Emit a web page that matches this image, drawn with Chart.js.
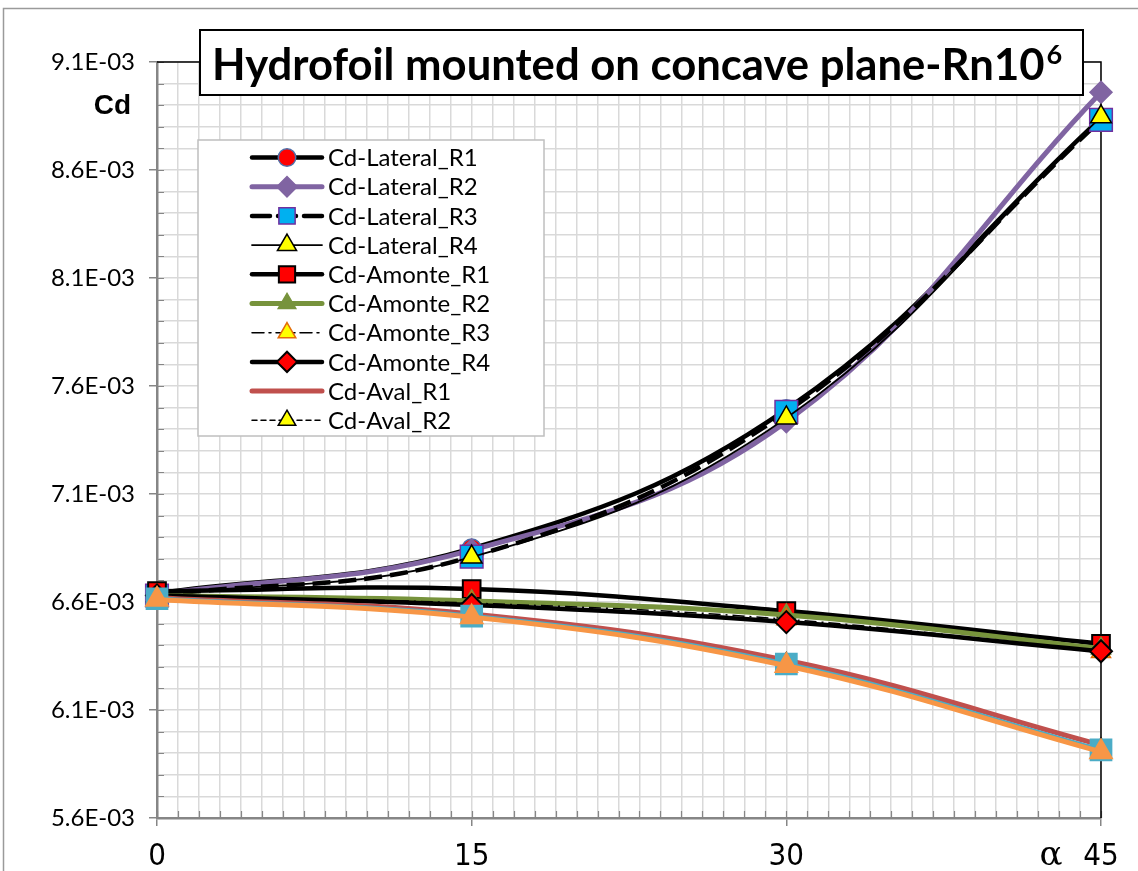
<!DOCTYPE html>
<html>
<head>
<meta charset="utf-8">
<title>Hydrofoil Cd</title>
<script src="https://cdn.jsdelivr.net/npm/chart.js@4.4.1/dist/chart.umd.min.js"></script>
<style>
  html, body { margin: 0; padding: 0; background: #fff; }
  #wrap { width: 1138px; height: 871px; }
</style>
</head>
<body>
<div id="wrap"><canvas id="cdChart" width="1138" height="871"></canvas></div>
<script>
// angle of attack (deg)
const alphaDeg = [0, 15, 30, 45];

// drag coefficient per configuration
const cdLateralR1 = [6.640e-3, 6.848e-3, 7.492e-3, 8.840e-3];
const cdLateralR2 = [6.635e-3, 6.840e-3, 7.435e-3, 8.960e-3];
const cdLateralR3 = [6.630e-3, 6.810e-3, 7.480e-3, 8.832e-3];
const cdLateralR4 = [6.630e-3, 6.808e-3, 7.452e-3, 8.846e-3];
const cdAmonteR1 = [6.650e-3, 6.660e-3, 6.558e-3, 6.406e-3];
const cdAmonteR2 = [6.630e-3, 6.605e-3, 6.540e-3, 6.385e-3];
const cdAmonteR3 = [6.625e-3, 6.595e-3, 6.520e-3, 6.368e-3];
const cdAmonteR4 = [6.630e-3, 6.586e-3, 6.507e-3, 6.372e-3];
const cdAvalR1 = [6.620e-3, 6.545e-3, 6.330e-3, 5.938e-3];
const cdAvalR2 = [6.615e-3, 6.538e-3, 6.315e-3, 5.920e-3];
const cdAvalR3 = [6.615e-3, 6.535e-3, 6.313e-3, 5.915e-3];
const cdAvalR4 = [6.612e-3, 6.530e-3, 6.305e-3, 5.906e-3];

const seriesNames = [
  "Cd-Lateral_R1", "Cd-Lateral_R2", "Cd-Lateral_R3", "Cd-Lateral_R4",
  "Cd-Amonte_R1", "Cd-Amonte_R2", "Cd-Amonte_R3", "Cd-Amonte_R4",
  "Cd-Aval_R1", "Cd-Aval_R2", "Cd-Aval_R3", "Cd-Aval_R4"
];
const legendCount = 10;

// y axis: 5.6E-03 .. 9.1E-03, labels every 0.5E-03
const cdMin = 5.6e-3;
const cdMax = 9.1e-3;

function pts(values) {
  return alphaDeg.map((a, i) => ({ x: a, y: values[i] }));
}

function series(idx, values, style) {
  return Object.assign({
    label: seriesNames[idx],
    data: pts(values),
    order: -idx,
    tension: 0.4,
    fill: false,
    clip: false,
    borderDash: [],
    pointBorderWidth: 1.5,
    pointHoverRadius: 0
  }, style);
}

const datasets = [
  series(0, cdLateralR1, { borderColor: "#000", borderWidth: 4.5, pointStyle: "circle", pointRadius: 9.5, pointBackgroundColor: "#ff0000", pointBorderColor: "#4f6fa8" }),
  series(1, cdLateralR2, { borderColor: "#8064a2", borderWidth: 5, pointStyle: "rectRot", pointRadius: 11, pointBackgroundColor: "#8064a2", pointBorderColor: "#8064a2" }),
  series(2, cdLateralR3, { borderColor: "#000", borderWidth: 4.5, borderDash: [18, 8], pointStyle: "rect", pointRadius: 16, pointBackgroundColor: "#00b0f0", pointBorderColor: "#7030a0" }),
  series(3, cdLateralR4, { borderColor: "#000", borderWidth: 1.8, pointStyle: "triangle", pointRadius: 12, pointBackgroundColor: "#ffff00", pointBorderColor: "#000" }),
  series(4, cdAmonteR1, { borderColor: "#000", borderWidth: 4.5, pointStyle: "rect", pointRadius: 12.5, pointBackgroundColor: "#ff0000", pointBorderColor: "#000", pointBorderWidth: 2 }),
  series(5, cdAmonteR2, { borderColor: "#77933c", borderWidth: 5, pointStyle: "triangle", pointRadius: 11, pointBackgroundColor: "#77933c", pointBorderColor: "#77933c" }),
  series(6, cdAmonteR3, { borderColor: "#000", borderWidth: 1.5, borderDash: [12, 5, 2, 5], pointStyle: "triangle", pointRadius: 11, pointBackgroundColor: "#ffff00", pointBorderColor: "#e46c0a" }),
  series(7, cdAmonteR4, { borderColor: "#000", borderWidth: 4.5, pointStyle: "rectRot", pointRadius: 11, pointBackgroundColor: "#ff0000", pointBorderColor: "#000", pointBorderWidth: 2 }),
  series(8, cdAvalR1, { borderColor: "#c0504d", borderWidth: 5, pointRadius: 0 }),
  series(9, cdAvalR2, { borderColor: "#000", borderWidth: 1.5, borderDash: [5, 4], pointStyle: "triangle", pointRadius: 11, pointBackgroundColor: "#ffff00", pointBorderColor: "#000" }),
  series(10, cdAvalR3, { borderColor: "#4bacc6", borderWidth: 4.5, pointStyle: "rect", pointRadius: 15, pointBackgroundColor: "#4bacc6", pointBorderColor: "#4bacc6" }),
  series(11, cdAvalR4, { borderColor: "#f79646", borderWidth: 5, pointStyle: "triangle", pointRadius: 13, pointBackgroundColor: "#f79646", pointBorderColor: "#f79646" })
];

const GRID = "#d9d9d9";
const AXIS = "#868686";
const tickFontY = { family: "Lato, 'Open Sans', sans-serif", size: 24 };
const tickFontX = { family: "'Liberation Sans Narrow', 'DejaVu Sans Condensed', 'Liberation Sans', sans-serif", size: 31 };

function isMajorY(v) {
  return Math.round((v - cdMin) * 1e4) % 5 === 0;
}

const decorPlugin = {
  id: "decor",
  beforeDraw(chart) {
    const ctx = chart.ctx;
    ctx.save();
    ctx.fillStyle = "#fff";
    ctx.fillRect(0, 0, chart.width, chart.height);
    ctx.strokeStyle = "#9a9a9a";
    ctx.lineWidth = 1.5;
    ctx.strokeRect(3.5, 8.5, chart.width + 20, chart.height + 20);
    ctx.restore();
  },
  beforeDatasetsDraw(chart) {
    const ctx = chart.ctx;
    const a = chart.chartArea;
    const xs = chart.scales.x, ys = chart.scales.y;
    ctx.save();
    // small inner ticks along both axes
    ctx.strokeStyle = AXIS;
    ctx.lineWidth = 1.2;
    ctx.beginPath();
    ys.ticks.forEach(t => {
      const y = Math.round(ys.getPixelForValue(t.value)) + 0.5;
      ctx.moveTo(a.left, y);
      ctx.lineTo(a.left + 7, y);
    });
    xs.ticks.forEach(t => {
      const x = Math.round(xs.getPixelForValue(t.value)) + 0.5;
      ctx.moveTo(x, a.bottom);
      ctx.lineTo(x, a.bottom - 7);
    });
    ctx.stroke();
    // black frame on top and right of the plot
    ctx.strokeStyle = "#000";
    ctx.lineWidth = 1.5;
    ctx.beginPath();
    ctx.moveTo(a.left, a.top);
    ctx.lineTo(a.right, a.top);
    ctx.lineTo(a.right, a.bottom);
    ctx.stroke();
    ctx.restore();
  },
  afterDraw(chart) {
    const ctx = chart.ctx;
    ctx.save();

    // title box
    const bx = 200, by = 30, bw = 883, bh = 65;
    ctx.fillStyle = "#fff";
    ctx.fillRect(bx, by, bw, bh);
    ctx.strokeStyle = "#000";
    ctx.lineWidth = 2;
    ctx.strokeRect(bx, by, bw, bh);
    const main = "Hydrofoil mounted on concave plane-Rn10";
    let size = 42;
    ctx.font = `bold ${size}px Lato, 'Open Sans', sans-serif`;
    size = size * 833 / ctx.measureText(main).width;
    ctx.font = `bold ${size}px Lato, 'Open Sans', sans-serif`;
    ctx.fillStyle = "#000";
    ctx.textBaseline = "alphabetic";
    ctx.textAlign = "left";
    ctx.fillText(main, 212, 80);
    const mw = ctx.measureText(main).width;
    ctx.font = `bold ${size * 0.62}px Lato, 'Open Sans', sans-serif`;
    ctx.fillText("6", 212 + mw + 2, 64);

    // axis captions
    ctx.font = "bold 28px 'Liberation Sans', Arial, sans-serif";
    ctx.textAlign = "right";
    ctx.textBaseline = "middle";
    ctx.fillText("Cd", 131, 106);
    ctx.font = `34px 'DejaVu Serif', serif`;
    ctx.textAlign = "center";
    ctx.fillText("α", 1051, 856);

    // legend
    const lx = 198, ly = 140, lw = 346, lh = 296;
    ctx.fillStyle = "#fff";
    ctx.fillRect(lx, ly, lw, lh);
    ctx.strokeStyle = "#bfbfbf";
    ctx.lineWidth = 1.5;
    ctx.strokeRect(lx, ly, lw, lh);
    chart.data.datasets.slice(0, legendCount).forEach((ds, i) => {
      const y = 157.5 + i * 29.2;
      ctx.save();
      ctx.strokeStyle = ds.borderColor;
      ctx.lineWidth = ds.borderWidth;
      ctx.setLineDash(ds.borderDash || []);
      ctx.lineCap = "round";
      ctx.beginPath();
      ctx.moveTo(252, y);
      ctx.lineTo(322, y);
      ctx.stroke();
      ctx.setLineDash([]);
      if (ds.pointRadius > 0) {
        ctx.fillStyle = ds.pointBackgroundColor;
        ctx.strokeStyle = ds.pointBorderColor;
        ctx.lineWidth = ds.pointBorderWidth;
        Chart.helpers.drawPoint(ctx, {
          pointStyle: ds.pointStyle,
          radius: Math.min(ds.pointRadius, 12.5) * 0.92,
          borderWidth: ds.pointBorderWidth,
          rotation: 0
        }, 287, y);
      }
      ctx.restore();
      ctx.fillStyle = "#000";
      ctx.font = "24px Lato, 'Open Sans', sans-serif";
      ctx.textAlign = "left";
      ctx.textBaseline = "middle";
      ctx.fillText(ds.label, 328, y + 1);
    });
    ctx.restore();
  }
};

const cdChart = new Chart(document.getElementById("cdChart").getContext("2d"), {
  type: "line",
  data: { datasets },
  plugins: [decorPlugin],
  options: {
    responsive: false,
    animation: false,
    devicePixelRatio: 1,
    layout: { padding: { top: 62, right: 37, bottom: 0, left: 0 } },
    plugins: {
      legend: { display: false },
      tooltip: { enabled: false }
    },
    scales: {
      x: {
        type: "linear",
        min: 0,
        max: 45,
        afterFit(scale) { scale.height = 53; },
        ticks: {
          stepSize: 1,
          autoSkip: false,
          maxRotation: 0,
          padding: 12,
          color: "#000",
          font: tickFontX,
          callback: v => (v % 15 === 0 ? String(v) : "")
        },
        grid: {
          color: GRID,
          lineWidth: 1.5,
          tickLength: 8,
          tickColor: c => (c.tick && c.tick.value % 15 === 0 ? AXIS : "rgba(0,0,0,0)")
        },
        border: { color: AXIS, width: 2.5 }
      },
      y: {
        type: "linear",
        min: cdMin,
        max: cdMax,
        afterFit(scale) { scale.width = 157; },
        ticks: {
          stepSize: 1e-4,
          autoSkip: false,
          padding: 14,
          color: "#000",
          font: tickFontY,
          callback: v => (isMajorY(v) ? (v * 1e3).toFixed(1) + "E-03" : "")
        },
        grid: {
          color: GRID,
          lineWidth: 1.5,
          tickLength: 8,
          tickColor: c => (c.tick && isMajorY(c.tick.value) ? AXIS : "rgba(0,0,0,0)")
        },
        border: { color: AXIS, width: 2.5 }
      }
    }
  }
});
</script>
</body>
</html>
